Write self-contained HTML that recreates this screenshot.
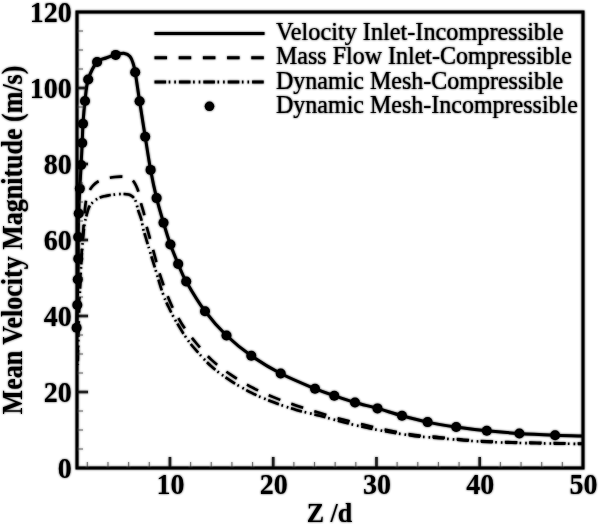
<!DOCTYPE html>
<html><head><meta charset="utf-8"><style>
html,body{margin:0;padding:0;background:#fff;}
svg{display:block;will-change:transform;}
.tl{font-family:"Liberation Serif",serif;font-weight:bold;font-size:26px;fill:#000;}
.lg{font-family:"Liberation Serif",serif;font-size:24px;fill:#000;stroke:#000;stroke-width:0.2px;}
.tk{font-family:"Liberation Serif",serif;font-weight:bold;font-size:28px;fill:#000;}
.maj{stroke:#222;stroke-width:2.6;}
.min{stroke:#777;stroke-width:1.1;}
</style></head><body>
<svg width="600" height="525" viewBox="0 0 600 525">
<defs><filter id="bl" x="-1%" y="-1%" width="102%" height="102%"><feGaussianBlur stdDeviation="0.9"/></filter></defs>
<rect x="0" y="0" width="600" height="525" fill="#fff"/>
<g id="c">
<g fill="none" stroke-linecap="butt">
<line x1="77" y1="392.00" x2="88" y2="392.00" class="maj"/>
<line x1="77" y1="316.00" x2="88" y2="316.00" class="maj"/>
<line x1="77" y1="240.00" x2="88" y2="240.00" class="maj"/>
<line x1="77" y1="164.00" x2="88" y2="164.00" class="maj"/>
<line x1="77" y1="88.00" x2="88" y2="88.00" class="maj"/>
<line x1="77" y1="449.00" x2="83" y2="449.00" class="min"/>
<line x1="77" y1="430.00" x2="83" y2="430.00" class="min"/>
<line x1="77" y1="411.00" x2="83" y2="411.00" class="min"/>
<line x1="77" y1="373.00" x2="83" y2="373.00" class="min"/>
<line x1="77" y1="354.00" x2="83" y2="354.00" class="min"/>
<line x1="77" y1="335.00" x2="83" y2="335.00" class="min"/>
<line x1="77" y1="297.00" x2="83" y2="297.00" class="min"/>
<line x1="77" y1="278.00" x2="83" y2="278.00" class="min"/>
<line x1="77" y1="259.00" x2="83" y2="259.00" class="min"/>
<line x1="77" y1="221.00" x2="83" y2="221.00" class="min"/>
<line x1="77" y1="202.00" x2="83" y2="202.00" class="min"/>
<line x1="77" y1="183.00" x2="83" y2="183.00" class="min"/>
<line x1="77" y1="145.00" x2="83" y2="145.00" class="min"/>
<line x1="77" y1="126.00" x2="83" y2="126.00" class="min"/>
<line x1="77" y1="107.00" x2="83" y2="107.00" class="min"/>
<line x1="77" y1="69.00" x2="83" y2="69.00" class="min"/>
<line x1="77" y1="50.00" x2="83" y2="50.00" class="min"/>
<line x1="77" y1="31.00" x2="83" y2="31.00" class="min"/>
<line x1="169.94" y1="468" x2="169.94" y2="457" class="maj"/>
<line x1="273.20" y1="468" x2="273.20" y2="457" class="maj"/>
<line x1="376.47" y1="468" x2="376.47" y2="457" class="maj"/>
<line x1="479.73" y1="468" x2="479.73" y2="457" class="maj"/>
<line x1="87.33" y1="468" x2="87.33" y2="462" class="min"/>
<line x1="107.98" y1="468" x2="107.98" y2="462" class="min"/>
<line x1="128.63" y1="468" x2="128.63" y2="462" class="min"/>
<line x1="149.29" y1="468" x2="149.29" y2="462" class="min"/>
<line x1="190.59" y1="468" x2="190.59" y2="462" class="min"/>
<line x1="211.24" y1="468" x2="211.24" y2="462" class="min"/>
<line x1="231.90" y1="468" x2="231.90" y2="462" class="min"/>
<line x1="252.55" y1="468" x2="252.55" y2="462" class="min"/>
<line x1="293.86" y1="468" x2="293.86" y2="462" class="min"/>
<line x1="314.51" y1="468" x2="314.51" y2="462" class="min"/>
<line x1="335.16" y1="468" x2="335.16" y2="462" class="min"/>
<line x1="355.82" y1="468" x2="355.82" y2="462" class="min"/>
<line x1="397.12" y1="468" x2="397.12" y2="462" class="min"/>
<line x1="417.78" y1="468" x2="417.78" y2="462" class="min"/>
<line x1="438.43" y1="468" x2="438.43" y2="462" class="min"/>
<line x1="459.08" y1="468" x2="459.08" y2="462" class="min"/>
<line x1="500.39" y1="468" x2="500.39" y2="462" class="min"/>
<line x1="521.04" y1="468" x2="521.04" y2="462" class="min"/>
<line x1="541.69" y1="468" x2="541.69" y2="462" class="min"/>
<line x1="562.35" y1="468" x2="562.35" y2="462" class="min"/>
</g>
<g fill="none" stroke="#000" stroke-width="3">
<path d="M76.60,330.00 C76.60,329.62 76.48,331.87 76.60,327.70 C76.72,323.53 77.10,313.03 77.30,305.00 C77.50,296.97 77.63,287.20 77.80,279.50 C77.97,271.80 78.23,265.87 78.30,258.80 C78.37,251.73 78.13,244.65 78.20,237.10 C78.27,229.55 78.43,221.58 78.70,213.50 C78.97,205.42 79.40,196.68 79.80,188.60 C80.20,180.52 80.70,172.60 81.10,165.00 C81.50,157.40 81.88,149.88 82.20,143.00 C82.52,136.12 82.53,130.70 83.00,123.70 C83.47,116.70 84.13,108.37 85.00,101.00 C85.87,93.63 86.18,86.00 88.20,79.50 C90.22,73.00 94.13,65.58 97.10,62.00 C100.07,58.42 102.90,59.18 106.00,58.00 C109.10,56.82 112.62,55.67 115.70,54.90 C118.78,54.13 122.12,53.13 124.50,53.40 C126.88,53.67 128.58,54.90 130.00,56.50 C131.42,58.10 132.13,60.38 133.00,63.00 C133.87,65.62 134.10,65.82 135.20,72.20 C136.30,78.58 137.93,90.55 139.60,101.30 C141.27,112.05 143.37,125.27 145.20,136.70 C147.03,148.13 148.70,159.67 150.60,169.90 C152.50,180.13 154.45,189.30 156.60,198.10 C158.75,206.90 161.20,214.97 163.50,222.70 C165.80,230.43 167.95,237.62 170.40,244.50 C172.85,251.38 175.57,257.83 178.20,264.00 C180.83,270.17 181.73,273.63 186.20,281.50 C190.67,289.37 198.28,302.20 205.00,311.20 C211.72,320.20 218.78,328.08 226.50,335.50 C234.22,342.92 242.27,349.37 251.30,355.70 C260.33,362.03 270.08,368.00 280.70,373.50 C291.32,379.00 306.07,385.00 315.00,388.70 C323.93,392.40 327.63,393.40 334.30,395.70 C340.97,398.00 347.80,400.38 355.00,402.50 C362.20,404.62 369.67,406.20 377.50,408.40 C385.33,410.60 393.65,413.42 402.00,415.70 C410.35,417.98 418.57,420.22 427.60,422.10 C436.63,423.98 446.33,425.55 456.20,427.00 C466.07,428.45 476.27,429.72 486.80,430.80 C497.33,431.88 508.02,432.77 519.40,433.50 C530.78,434.23 544.50,434.78 555.10,435.20 C565.70,435.62 578.35,435.87 583.00,436.00"/>
<path stroke-width="2.6" d="M77.80,350.00 C77.97,343.33 78.42,321.67 78.80,310.00 C79.18,298.33 79.67,288.83 80.10,280.00 C80.53,271.17 80.98,263.67 81.40,257.00 C81.82,250.33 82.23,245.17 82.60,240.00 C82.97,234.83 83.27,230.50 83.60,226.00 C83.93,221.50 84.23,217.00 84.60,213.00 C84.97,209.00 85.30,205.03 85.80,202.00 C86.30,198.97 86.92,196.82 87.60,194.80 C88.28,192.78 89.00,191.43 89.90,189.90 C90.80,188.37 91.80,186.90 93.00,185.60 C94.20,184.30 95.43,183.12 97.10,182.10 C98.77,181.08 100.92,180.20 103.00,179.50 C105.08,178.80 107.60,178.32 109.60,177.90 C111.60,177.48 113.17,177.22 115.00,177.00 C116.83,176.78 118.77,176.58 120.60,176.60 C122.43,176.62 124.43,176.80 126.00,177.10 C127.57,177.40 128.87,177.83 130.00,178.40 C131.13,178.97 131.90,179.52 132.80,180.50 C133.70,181.48 134.60,182.85 135.40,184.30 C136.20,185.75 136.93,187.33 137.60,189.20 C138.27,191.07 138.85,193.20 139.40,195.50 C139.95,197.80 140.15,200.03 140.90,203.00 C141.65,205.97 142.95,209.42 143.90,213.30 C144.85,217.18 145.72,222.55 146.60,226.30 C147.48,230.05 148.30,232.52 149.20,235.80 C150.10,239.08 150.98,242.30 152.00,246.00 C153.02,249.70 154.17,253.83 155.30,258.00 C156.43,262.17 157.50,266.67 158.80,271.00 C160.10,275.33 161.63,279.83 163.10,284.00 C164.57,288.17 166.08,292.22 167.60,296.00 C169.12,299.78 170.47,303.15 172.20,306.70 C173.93,310.25 176.12,314.00 178.00,317.30 C179.88,320.60 180.62,322.38 183.50,326.50 C186.38,330.62 190.67,336.48 195.30,342.00 C199.93,347.52 205.47,354.20 211.30,359.60 C217.13,365.00 223.52,369.77 230.30,374.40 C237.08,379.03 244.72,383.57 252.00,387.40 C259.28,391.23 266.55,394.35 274.00,397.40 C281.45,400.45 289.03,403.10 296.70,405.70 C304.37,408.30 312.17,410.65 320.00,413.00 C327.83,415.35 335.87,417.72 343.70,419.80 C351.53,421.88 359.18,423.67 367.00,425.50 C374.82,427.33 382.60,429.20 390.60,430.80 C398.60,432.40 406.90,434.03 415.00,435.10 C423.10,436.17 431.08,436.43 439.20,437.20 C447.32,437.97 455.73,439.02 463.70,439.70 C471.67,440.38 478.95,440.88 487.00,441.30 C495.05,441.72 503.67,441.95 512.00,442.20 C520.33,442.45 528.83,442.62 537.00,442.80 C545.17,442.98 553.33,443.17 561.00,443.30 C568.67,443.43 579.33,443.55 583.00,443.60" stroke-dasharray="12.5 11.71" stroke-dashoffset="8.37"/>
<path stroke-width="2.6" d="M77.80,365.00 C77.97,357.50 78.43,332.50 78.80,320.00 C79.17,307.50 79.62,299.00 80.00,290.00 C80.38,281.00 80.73,272.83 81.10,266.00 C81.47,259.17 81.83,254.17 82.20,249.00 C82.57,243.83 82.87,239.33 83.30,235.00 C83.73,230.67 84.27,226.25 84.80,223.00 C85.33,219.75 85.97,217.67 86.50,215.50 C87.03,213.33 87.48,211.58 88.00,210.00 C88.52,208.42 88.93,207.15 89.60,206.00 C90.27,204.85 91.03,204.08 92.00,203.10 C92.97,202.12 94.12,201.02 95.40,200.10 C96.68,199.18 98.18,198.25 99.70,197.60 C101.22,196.95 102.93,196.58 104.50,196.20 C106.07,195.82 107.55,195.57 109.10,195.30 C110.65,195.03 112.15,194.80 113.80,194.60 C115.45,194.40 117.30,194.20 119.00,194.10 C120.70,194.00 122.42,193.92 124.00,194.00 C125.58,194.08 127.25,194.30 128.50,194.60 C129.75,194.90 130.62,195.27 131.50,195.80 C132.38,196.33 133.13,196.97 133.80,197.80 C134.47,198.63 135.00,199.60 135.50,200.80 C136.00,202.00 136.35,203.42 136.80,205.00 C137.25,206.58 137.47,207.97 138.20,210.30 C138.93,212.63 140.38,215.95 141.20,219.00 C142.02,222.05 142.42,225.77 143.10,228.60 C143.78,231.43 144.43,233.10 145.30,236.00 C146.17,238.90 147.25,242.50 148.30,246.00 C149.35,249.50 150.43,253.17 151.60,257.00 C152.77,260.83 154.18,265.33 155.30,269.00 C156.42,272.67 157.32,275.72 158.30,279.00 C159.28,282.28 160.03,285.20 161.20,288.70 C162.37,292.20 164.07,296.95 165.30,300.00 C166.53,303.05 167.48,304.67 168.60,307.00 C169.72,309.33 170.65,311.42 172.00,314.00 C173.35,316.58 174.53,318.83 176.70,322.50 C178.87,326.17 182.17,331.83 185.00,336.00 C187.83,340.17 189.42,342.53 193.70,347.50 C197.98,352.47 204.70,360.35 210.70,365.80 C216.70,371.25 222.87,375.68 229.70,380.20 C236.53,384.72 244.37,389.22 251.70,392.90 C259.03,396.58 266.27,399.47 273.70,402.30 C281.13,405.13 288.58,407.65 296.30,409.90 C304.02,412.15 312.10,413.73 320.00,415.80 C327.90,417.87 335.87,420.30 343.70,422.30 C351.53,424.30 359.18,426.15 367.00,427.80 C374.82,429.45 382.60,430.82 390.60,432.20 C398.60,433.58 406.90,435.12 415.00,436.10 C423.10,437.08 431.08,437.38 439.20,438.10 C447.32,438.82 455.73,439.77 463.70,440.40 C471.67,441.03 478.95,441.50 487.00,441.90 C495.05,442.30 503.67,442.57 512.00,442.80 C520.33,443.03 528.83,443.15 537.00,443.30 C545.17,443.45 553.33,443.58 561.00,443.70 C568.67,443.82 579.33,443.95 583.00,444.00" stroke-dasharray="11.4 2.8 1.6 4 1.6 2.8" stroke-dashoffset="20.4"/>
</g>
<g fill="#000">
<circle cx="76.6" cy="327.7" r="5.0"/>
<circle cx="77.3" cy="305" r="5.0"/>
<circle cx="77.8" cy="279.5" r="5.0"/>
<circle cx="78.3" cy="258.8" r="5.0"/>
<circle cx="78.2" cy="237.1" r="5.0"/>
<circle cx="78.7" cy="213.5" r="5.0"/>
<circle cx="79.8" cy="188.6" r="5.0"/>
<circle cx="81.1" cy="165" r="5.0"/>
<circle cx="82.2" cy="143" r="5.0"/>
<circle cx="83" cy="123.7" r="5.0"/>
<circle cx="85" cy="101" r="5.0"/>
<circle cx="88.2" cy="79.5" r="5.0"/>
<circle cx="97.1" cy="62" r="5.0"/>
<circle cx="115.7" cy="54.9" r="5.0"/>
<circle cx="135.2" cy="72.2" r="5.0"/>
<circle cx="139.6" cy="101.3" r="5.0"/>
<circle cx="145.2" cy="136.7" r="5.0"/>
<circle cx="150.6" cy="169.9" r="5.0"/>
<circle cx="156.6" cy="198.1" r="5.0"/>
<circle cx="163.5" cy="222.7" r="5.0"/>
<circle cx="170.4" cy="244.5" r="5.0"/>
<circle cx="178.2" cy="264" r="5.0"/>
<circle cx="186.2" cy="281.5" r="5.0"/>
<circle cx="205" cy="311.2" r="5.0"/>
<circle cx="226.5" cy="335.5" r="5.0"/>
<circle cx="251.3" cy="355.7" r="5.0"/>
<circle cx="280.7" cy="373.5" r="5.0"/>
<circle cx="315" cy="388.7" r="5.0"/>
<circle cx="334.3" cy="395.7" r="5.0"/>
<circle cx="355" cy="402.5" r="5.0"/>
<circle cx="377.5" cy="408.4" r="5.0"/>
<circle cx="402" cy="415.7" r="5.0"/>
<circle cx="427.6" cy="422.1" r="5.0"/>
<circle cx="456.2" cy="427" r="5.0"/>
<circle cx="486.8" cy="430.8" r="5.0"/>
<circle cx="519.4" cy="433.5" r="5.0"/>
<circle cx="555.1" cy="435.2" r="5.0"/>
</g>
<rect x="77" y="12" width="506" height="456" fill="none" stroke="#000" stroke-width="3"/>
<text transform="translate(71.8,477.60) scale(1,1.06)" class="tk" text-anchor="end">0</text>
<text transform="translate(71.8,401.60) scale(1,1.06)" class="tk" text-anchor="end">20</text>
<text transform="translate(71.8,325.60) scale(1,1.06)" class="tk" text-anchor="end">40</text>
<text transform="translate(71.8,249.60) scale(1,1.06)" class="tk" text-anchor="end">60</text>
<text transform="translate(71.8,173.60) scale(1,1.06)" class="tk" text-anchor="end">80</text>
<text transform="translate(71.8,97.60) scale(1,1.06)" class="tk" text-anchor="end">100</text>
<text transform="translate(71.8,21.60) scale(1,1.06)" class="tk" text-anchor="end">120</text>
<text transform="translate(170.54,493.6) scale(1,1.06)" class="tk" text-anchor="middle">10</text>
<text transform="translate(273.80,493.6) scale(1,1.06)" class="tk" text-anchor="middle">20</text>
<text transform="translate(377.07,493.6) scale(1,1.06)" class="tk" text-anchor="middle">30</text>
<text transform="translate(480.33,493.6) scale(1,1.06)" class="tk" text-anchor="middle">40</text>
<text transform="translate(583.60,493.6) scale(1,1.06)" class="tk" text-anchor="middle">50</text>
<text class="tl" transform="translate(21.6,240) rotate(-90) scale(1,1.1)" text-anchor="middle">Mean Velocity Magnitude (m/s)</text>
<text class="tl" transform="translate(329.5,521.6) scale(1,1.05)" text-anchor="middle">Z /d</text>
<g fill="none" stroke="#000" stroke-width="3">
<line x1="154.5" y1="33.6" x2="264.5" y2="33.6"/>
<line x1="154.5" y1="57.8" x2="264.5" y2="57.8" stroke-dasharray="12.5 11.7"/>
<line x1="154.5" y1="82" x2="264.5" y2="82" stroke-dasharray="11.6 2.6 1.6 4 1.6 3"/>
</g>
<circle cx="209.5" cy="106.3" r="4.8" fill="#000"/>
<text class="lg" transform="translate(276,40.1) scale(1,1.03)" textLength="287.5" lengthAdjust="spacingAndGlyphs">Velocity Inlet-Incompressible</text>
<text class="lg" transform="translate(276,64.3) scale(1,1.03)">Mass Flow Inlet-Compressible</text>
<text class="lg" transform="translate(276,88.6) scale(1,1.03)">Dynamic Mesh-Compressible</text>
<text class="lg" transform="translate(276,112.9) scale(1,1.03)">Dynamic Mesh-Incompressible</text>
</g>
<use href="#c" filter="url(#bl)" opacity="0.75"/>
</svg>
</body></html>
